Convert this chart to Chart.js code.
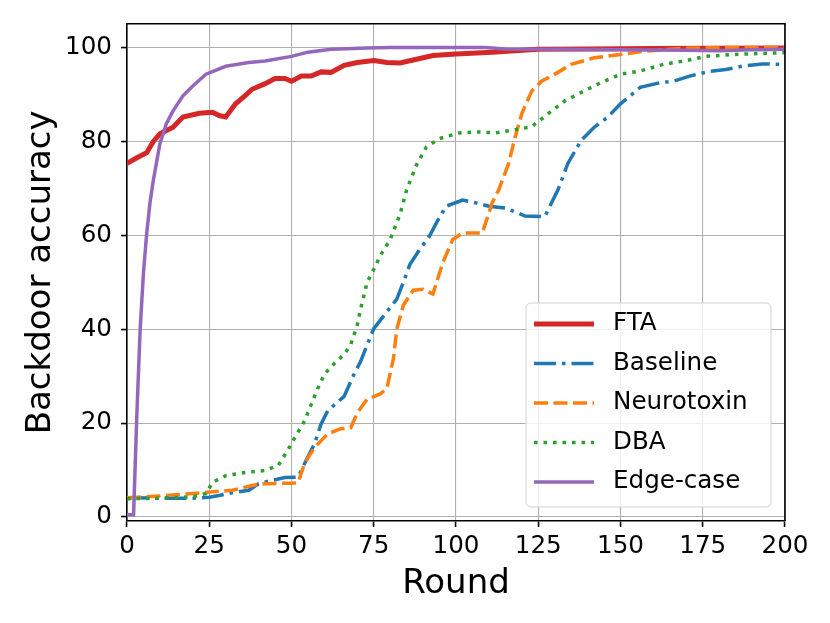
<!DOCTYPE html>
<html>
<head>
<meta charset="utf-8">
<script src="https://cdn.jsdelivr.net/npm/chart.js@4.4.0/dist/chart.umd.min.js"></script>
<style>
  html, body { margin: 0; padding: 0; background: #fff; }
  #wrap { width: 830px; height: 623px; }
</style>
</head>
<body>
<div id="wrap"><canvas id="chart" width="830" height="623"></canvas></div>
<script>
// Ticks
const xTicks = [0, 25, 50, 75, 100, 125, 150, 175, 200];
const yTicks = [0, 20, 40, 60, 80, 100];

// FTA
const ftaRounds = [0, 3, 6, 8, 10, 12, 14, 17, 22, 26, 28, 30, 33, 36, 38, 42, 45, 48, 50, 53, 56, 59, 62, 66, 70, 75, 79, 83, 88, 93, 100, 111, 125, 140, 160, 200];
const ftaValues = [75.3, 76.5, 77.6, 80, 81.6, 82.3, 83, 85.2, 86, 86.2, 85.5, 85.2, 88, 89.8, 91.1, 92.3, 93.4, 93.4, 92.8, 93.9, 93.9, 94.8, 94.7, 96.2, 96.8, 97.2, 96.8, 96.7, 97.5, 98.3, 98.6, 99, 99.6, 99.7, 99.8, 99.9];

// Baseline
const baseRounds = [0, 10, 20, 25, 28, 33, 37, 40, 44, 48, 52, 54, 57, 59, 61, 66, 69, 71, 73, 75, 79, 82, 84, 86, 89, 92, 94, 97, 102, 106, 110, 115, 121, 127, 131, 134, 138, 142, 146, 150, 156, 162, 166, 171, 177, 182, 187, 193, 200];
const baseValues = [4.1, 4, 4, 4.2, 4.6, 5.3, 5.7, 7.1, 7.8, 8.4, 8.5, 11.4, 15.6, 19.8, 22.6, 25.7, 30.4, 33.1, 36.7, 40.1, 43.7, 46.4, 50, 53.8, 57, 59.9, 62.6, 66.2, 67.5, 66.9, 66.2, 65.8, 64.1, 64, 69.7, 75.3, 80.2, 83, 85.1, 88, 91.5, 92.5, 92.8, 93.9, 94.9, 95.3, 96, 96.5, 96.4];

// Neurotoxin
const neuroRounds = [0, 10, 20, 25, 32, 38, 42, 50, 52, 54, 57, 61, 65, 68, 70, 73, 77, 79, 81, 82, 84, 87, 90, 93, 96, 99, 102, 108, 111, 113, 116, 118, 120, 123, 126, 131, 135, 142, 150, 157, 169, 180, 200];
const neuroValues = [4.1, 4.5, 5, 5.3, 5.7, 6.7, 7.1, 7.2, 7.3, 11.5, 14.8, 17.7, 18.8, 19, 22.2, 25.1, 26.2, 27.4, 33.8, 40, 45.1, 48.3, 48.5, 47.5, 54.2, 59.1, 60.5, 60.5, 66.9, 69.7, 75.3, 81, 85.9, 90.7, 92.8, 94.7, 96.4, 97.8, 98.5, 99.2, 99.8, 100, 100];

// DBA
const dbaRounds = [0, 10, 20, 24, 26, 30, 36, 42, 46, 49, 51, 54, 56, 58, 60, 63, 66, 68, 70, 71, 73, 75, 77, 80, 83, 85, 88, 91, 95, 101, 107, 112, 118, 123, 128, 133, 138, 144, 150, 156, 163, 170, 176, 184, 200];
const dbaValues = [3.9, 4, 4.3, 5, 7.4, 8.8, 9.5, 9.9, 11, 14.4, 16.9, 20.5, 24, 27.4, 30.4, 32.7, 34.6, 36.7, 40.9, 44.3, 50, 52.7, 55.7, 59.1, 64.5, 69.7, 75, 78.8, 80.6, 81.8, 82, 81.8, 82.5, 83.1, 85.9, 88.6, 90.4, 92.5, 94.3, 95, 96.4, 97.2, 98.1, 98.5, 98.9];

// Edge-case
const edgeRounds = [0, 2, 3, 4, 5, 6, 7, 8, 10, 12, 14, 17, 20, 24, 30, 37, 42, 50, 55, 62, 73, 80, 109, 115, 130, 150, 170, 180, 190, 200];
const edgeValues = [0.5, 0.5, 22, 40, 52, 60.5, 67, 71.7, 79.5, 83.8, 86.5, 89.7, 91.8, 94.3, 96, 96.8, 97.1, 98.1, 99, 99.6, 99.9, 100, 100, 99.7, 99.6, 99.5, 99.4, 99.3, 99.5, 99.6];

function points(xs, ys) {
  return xs.map((x, i) => ({ x: x, y: ys[i] }));
}

Chart.defaults.font.family = "'DejaVu Sans', sans-serif";
Chart.defaults.color = '#000';

// frame on top and right, like matplotlib spines
const framePlugin = {
  id: 'frame',
  afterDatasetsDraw(chart) {
    const { ctx, chartArea: a } = chart;
    ctx.save();
    ctx.strokeStyle = '#000';
    ctx.lineWidth = 1.6;
    ctx.beginPath();
    ctx.moveTo(a.left, a.top);
    ctx.lineTo(a.right, a.top);
    ctx.lineTo(a.right, a.bottom);
    ctx.stroke();
    ctx.restore();
  }
};

// legend inside the plot, lower right
const legendPlugin = {
  id: 'innerLegend',
  afterDraw(chart) {
    const { ctx } = chart;
    const x0 = 526, y0 = 303, w = 245, h = 204, r = 5;
    ctx.save();
    ctx.fillStyle = 'rgba(255,255,255,0.8)';
    ctx.strokeStyle = '#d0d0d0';
    ctx.lineWidth = 1;
    ctx.beginPath();
    ctx.roundRect(x0, y0, w, h, r);
    ctx.fill();
    ctx.stroke();
    const rowY = 324, rowGap = 39.5;
    const order = [0, 1, 2, 3, 4];
    order.forEach((di, k) => {
      const ds = chart.data.datasets[di];
      const y = rowY + k * rowGap;
      ctx.strokeStyle = ds.borderColor;
      ctx.lineWidth = ds.borderWidth;
      ctx.setLineDash(ds.borderDash || []);
      ctx.lineCap = 'butt';
      ctx.beginPath();
      ctx.moveTo(534, y);
      ctx.lineTo(594, y);
      ctx.stroke();
      ctx.setLineDash([]);
      ctx.fillStyle = '#000';
      ctx.font = "24.6px 'DejaVu Sans'";
      ctx.textAlign = 'left';
      ctx.textBaseline = 'middle';
      ctx.fillText(ds.label, 613, y);
    });
    ctx.restore();
  }
};

new Chart(document.getElementById('chart'), {
  type: 'line',
  data: {
    datasets: [
      { label: 'FTA', data: points(ftaRounds, ftaValues), borderColor: '#d62728', borderWidth: 5, order: 4 },
      { label: 'Baseline', data: points(baseRounds, baseValues), borderColor: '#1f77b4', borderWidth: 3.5, borderDash: [22, 6, 3.5, 6], order: 3 },
      { label: 'Neurotoxin', data: points(neuroRounds, neuroValues), borderColor: '#ff7f0e', borderWidth: 3.5, borderDash: [14, 5.5], order: 2 },
      { label: 'DBA', data: points(dbaRounds, dbaValues), borderColor: '#2ca02c', borderWidth: 3.5, borderDash: [3.6, 5.9], order: 1 },
      { label: 'Edge-case', data: points(edgeRounds, edgeValues), borderColor: '#9467bd', borderWidth: 3.5, order: 0 }
    ]
  },
  options: {
    responsive: false,
    animation: false,
    layout: { padding: { left: 0, right: 45, top: 19, bottom: 0 } },
    elements: { point: { radius: 0 }, line: { tension: 0, fill: false, borderCapStyle: 'butt' } },
    plugins: { legend: { display: false }, tooltip: { enabled: false } },
    scales: {
      x: {
        type: 'linear',
        min: 0,
        max: 200,
        afterBuildTicks: s => { s.ticks = xTicks.map(v => ({ value: v })); },
        afterFit: s => { s.height = 102; },
        ticks: { font: { size: 24.6 }, color: '#000', padding: 5, maxRotation: 0, autoSkip: false },
        grid: { color: '#b0b0b0', lineWidth: 1.1, tickColor: '#000', tickLength: 6, tickWidth: 1.6 },
        border: { color: '#000', width: 1.6 },
        title: { display: true, text: 'Round', font: { size: 34 }, color: '#000', padding: { top: 0, bottom: 18.6 } }
      },
      y: {
        type: 'linear',
        min: -0.85,
        max: 105.05,
        afterBuildTicks: s => { s.ticks = yTicks.map(v => ({ value: v })); },
        afterFit: s => { s.width = 127; },
        ticks: { font: { size: 24.6 }, color: '#000', padding: 9 },
        grid: { color: '#b0b0b0', lineWidth: 1.1, tickColor: '#000', tickLength: 6, tickWidth: 1.6 },
        border: { color: '#000', width: 1.6 },
        title: { display: true, text: 'Backdoor accuracy', font: { size: 34 }, color: '#000', padding: { top: 21, bottom: 0 } }
      }
    }
  },
  plugins: [framePlugin, legendPlugin]
});
</script>
</body>
</html>
